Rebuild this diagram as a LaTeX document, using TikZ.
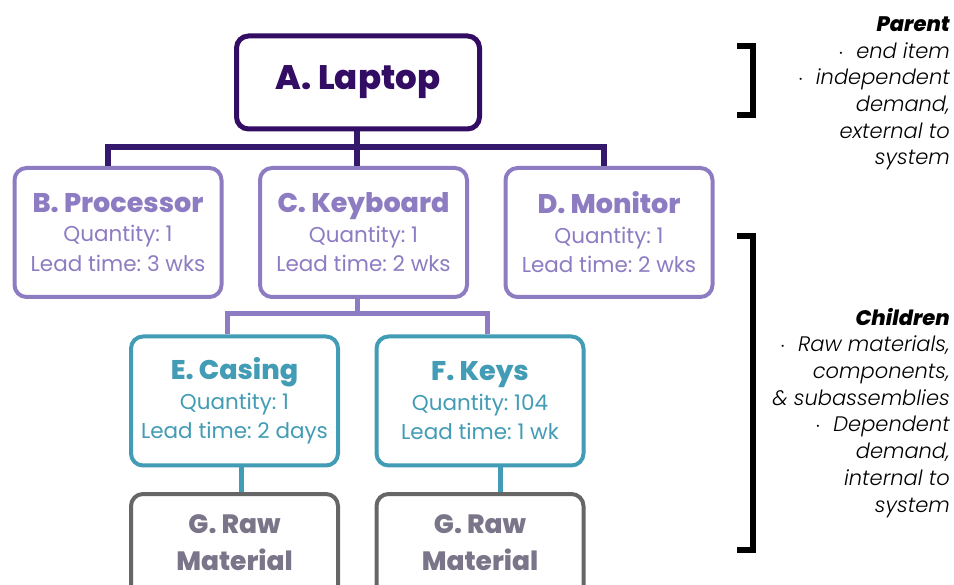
\documentclass[tikz,border=0pt]{standalone}
\usepackage{fontspec}
\setmainfont{Poppins}
\newfontfamily\heavyfont{Poppins ExtraBold}
\newfontfamily\sidefont{Poppins Light}[ItalicFont={Poppins Light Italic},BoldItalicFont={Poppins ExtraBold Italic}]
\frenchspacing
\definecolor{darkplum}{HTML}{330C63}
\definecolor{busplum}{HTML}{33186B}
\definecolor{lavender}{HTML}{8E7CC3}
\definecolor{tealbox}{HTML}{439CB5}
\definecolor{greybox}{HTML}{666666}
\definecolor{greytext}{HTML}{7A7589}
\tikzset{
  box/.style={draw, rounded corners=12pt, fill=white, inner sep=0pt,
    minimum width=207pt, minimum height=129pt, align=center,
    font=\frenchspacing\fontsize{21.5}{29.5}\selectfont},
  topbox/.style={box, draw=darkplum, line width=5pt, text=darkplum,
    minimum width=243pt, minimum height=93pt},
  midbox/.style={box, draw=lavender, line width=4pt, text=lavender},
  lowbox/.style={box, draw=tealbox, line width=4pt, text=tealbox},
  rawbox/.style={box, draw=greybox, line width=4pt},
  rawtext/.style={text=greytext, align=center, inner sep=0pt,
    font=\heavyfont\fontsize{26.5}{37}\selectfont},
  side/.style={anchor=base east, align=right, inner sep=0pt,
    font=\sidefont\itshape\fontsize{21}{26.7}\selectfont},
  bracket/.style={line width=6pt}
}
\newcommand{\boxtitle}[1]{{\heavyfont\fontsize{27}{29.5}\selectfont #1}}
\begin{document}
\begin{tikzpicture}[x=1pt,y=-1pt]
  \useasboundingbox (0,0) rectangle (954,585);

  % connector junctions
  \coordinate (busA) at (357,147);
  \coordinate (busC) at (357,314);
  \coordinate (dropE) at (241.5,480);
  \coordinate (dropF) at (500,480);

  % parent item
  \node[topbox] (A) at (358,82.5) {\heavyfont\fontsize{34}{40}\selectfont A. Laptop};

  % first level components
  \node[midbox] (B) at (118,232.5) {\boxtitle{B. Processor}\\Quantity: 1\\Lead time: 3 wks};
  \node[midbox] (C) at (363.5,232.5) {\boxtitle{C. Keyboard}\\Quantity: 1\\Lead time: 2 wks};
  \node[midbox] (D) at (609,232.5) {\boxtitle{D. Monitor}\\Quantity: 1\\Lead time: 2 wks};

  % second level components
  \node[lowbox] (E) at (234.5,401) {\boxtitle{E. Casing}\\Quantity: 1\\Lead time: 2 days};
  \node[lowbox] (F) at (480,401) {\boxtitle{F. Keys}\\Quantity: 104\\Lead time: 1 wk};

  % raw materials
  \node[rawbox, minimum height=128pt] (G1) at (234.5,558) {};
  \node[rawbox, minimum height=128pt] (G2) at (480,558) {};
  \node[rawtext] (G1t) at (234.5,543) {G. Raw\\Material};
  \node[rawtext] (G2t) at (480,543) {G. Raw\\Material};

  \draw[busplum, line width=6pt] (A.south -| busA) -- (busA);
  \draw[busplum, line width=6pt] ([xshift=-10pt]B.north) |- (busA)
       -| ([xshift=-5pt]D.north);
  \draw[busplum, line width=6pt] (busA) -- (C.north -| busA);
  \draw[lavender, line width=5pt] (C.south -| busC) -- (busC);
  \draw[lavender, line width=5pt] ([xshift=-7.5pt]E.north) |- (busC)
       -| ([xshift=7pt]F.north);
  \draw[tealbox, line width=5pt] (E.south -| dropE) -- (G1.north -| dropE);
  \draw[tealbox, line width=5pt] (F.south -| dropF) -- (G2.north -| dropF);

  % legend brackets
  \coordinate (p1) at (737,46);
  \coordinate (p2) at (737,115);
  \coordinate (c1) at (737,236);
  \coordinate (c2) at (737,550);
  \draw[bracket] (p1) -- ++(16,0) |- (p2);
  \draw[bracket] (c1) -- ++(16,0) |- (c2);

  % legend texts (anchored at the baseline of their last line)
  \node[side] (parent) at (950,165) {{\bfseries Parent}\\
    $\cdot$\ \ end item\\ $\cdot$\ \ independent\\ demand,\ \\ external to\\ system};
  \node[side] (children) at (950,512) {{\bfseries Children}\\
    $\cdot$\ \ Raw materials,\\ components,\\ \&\ subassemblies\\
    $\cdot$\ \ Dependent\\ demand,\\ internal to\\ system};
\end{tikzpicture}
\end{document}
